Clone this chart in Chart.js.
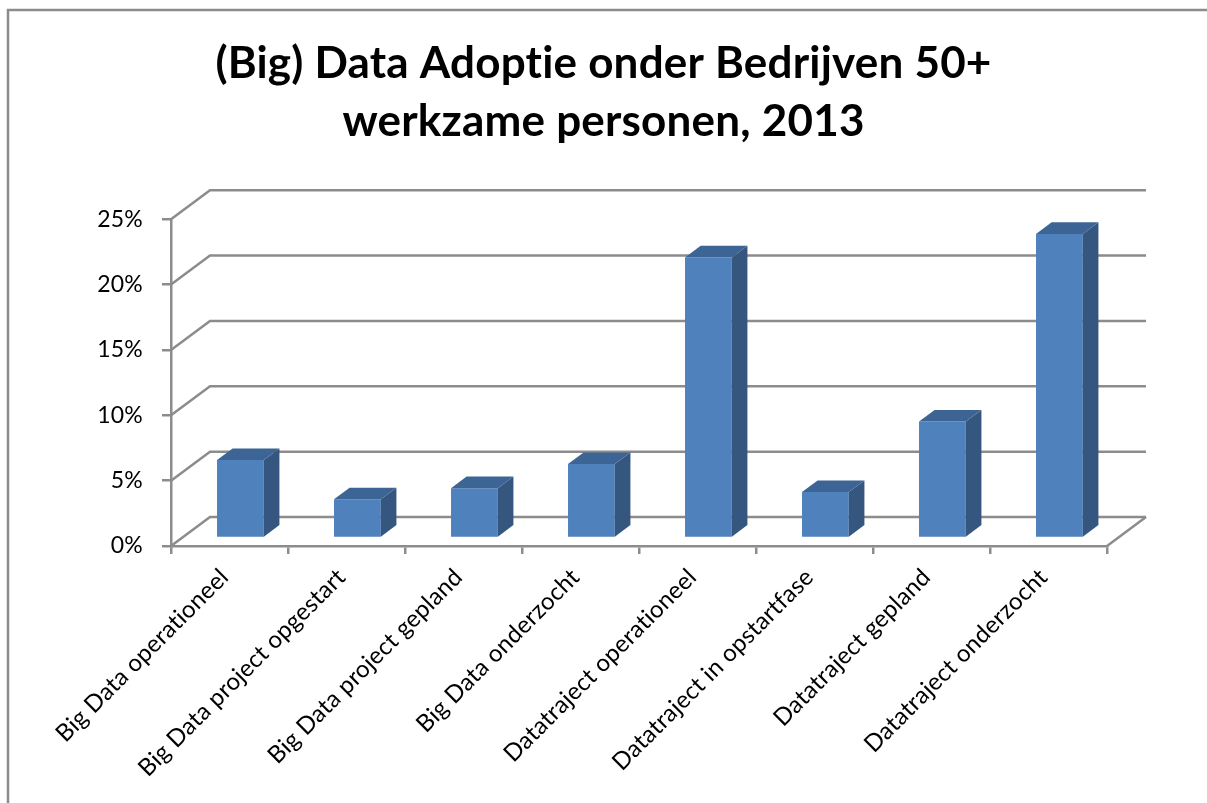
<!DOCTYPE html>
<html>
<head>
<meta charset="utf-8">
<script src="https://cdn.jsdelivr.net/npm/chart.js@4"></script>
<style>
    html, body { margin: 0; padding: 0; background: #fff; }
    canvas { display: block; }
</style>
</head>
<body>
<canvas id="chartCanvas" width="1207" height="803"></canvas>
<script>
const categories = [
    'Big Data operationeel',
    'Big Data project opgestart',
    'Big Data project gepland',
    'Big Data onderzocht',
    'Datatraject operationeel',
    'Datatraject in opstartfase',
    'Datatraject gepland',
    'Datatraject onderzocht',
];
const adoptionPct = [5.95, 2.95, 3.8, 5.65, 21.45, 3.5, 8.9, 23.25];
const yTickValues = [0, 5, 10, 15, 20, 25];
const titleLines = ['(Big) Data Adoptie onder Bedrijven 50+', 'werkzame personen, 2013'];

const gridColor = '#8c8c8c';
const depth = { dx: 39, dy: -29 };   // full floor depth (oblique)
const barFront = 0.28;                // where the bar front face sits in the depth
const barDepth = 0.4;                 // bar thickness, as part of the depth

// Draws the 3D walls, the frame, and the side/top faces of the bars
const wall3d = {
    id: 'wall3d',
    beforeDraw(chart) {
        const ctx = chart.ctx;
        // tiny spacing stops the "ti" ligature of the font
        ctx.letterSpacing = '0.2px';
        ctx.save();
        ctx.strokeStyle = gridColor;
        ctx.lineWidth = 2.5;
        ctx.strokeRect(8, 10, 1220, 820);
        ctx.restore();
    },
    beforeDatasetsDraw(chart) {
        const ctx = chart.ctx;
        const { left, right, bottom } = chart.chartArea;
        const y = chart.scales.y;
        ctx.save();
        ctx.strokeStyle = gridColor;
        ctx.lineWidth = 2.5;
        yTickValues.forEach((v) => {
            const py = y.getPixelForValue(v);
            ctx.beginPath();
            ctx.moveTo(left, py);
            ctx.lineTo(left + depth.dx, py + depth.dy);
            ctx.lineTo(right + depth.dx, py + depth.dy);
            ctx.stroke();
        });
        // right floor edge
        ctx.beginPath();
        ctx.moveTo(right, bottom);
        ctx.lineTo(right + depth.dx, bottom + depth.dy);
        ctx.stroke();
        ctx.restore();
    },
    beforeDatasetDraw(chart) {
        chart.ctx.save();
        chart.ctx.translate(depth.dx * barFront, depth.dy * barFront);
    },
    afterDatasetDraw(chart, args) {
        const ctx = chart.ctx;
        const bdx = depth.dx * barDepth;
        const bdy = depth.dy * barDepth;
        args.meta.data.forEach((bar) => {
            const { x, y, width, base } = bar.getProps(['x', 'y', 'width', 'base'], true);
            const l = x - width / 2;
            const r = x + width / 2;
            // side face
            ctx.fillStyle = '#35577f';
            ctx.beginPath();
            ctx.moveTo(r, y);
            ctx.lineTo(r + bdx, y + bdy);
            ctx.lineTo(r + bdx, base + bdy);
            ctx.lineTo(r, base);
            ctx.closePath();
            ctx.fill();
            // top face
            ctx.fillStyle = '#3c6494';
            ctx.beginPath();
            ctx.moveTo(l, y);
            ctx.lineTo(l + bdx, y + bdy);
            ctx.lineTo(r + bdx, y + bdy);
            ctx.lineTo(r, y);
            ctx.closePath();
            ctx.fill();
        });
        ctx.restore();
    },
};

new Chart(document.getElementById('chartCanvas'), {
    type: 'bar',
    data: {
        labels: categories,
        datasets: [{
            data: adoptionPct,
            backgroundColor: '#4f81bd',
            borderWidth: 0,
            barPercentage: 0.4,
            categoryPercentage: 1.0,
        }],
    },
    options: {
        responsive: false,
        animation: false,
        devicePixelRatio: 1,
        layout: { padding: 0 },
        plugins: {
            legend: { display: false },
            tooltip: { enabled: false },
            title: {
                display: true,
                text: titleLines,
                color: '#000',
                font: { family: 'Lato', size: 44, weight: 'bold', lineHeight: 1.32 },
                padding: { top: 35, bottom: 68 },
            },
        },
        scales: {
            x: {
                grid: {
                    drawOnChartArea: false,
                    drawTicks: true,
                    tickLength: 8,
                    color: gridColor,
                    lineWidth: 2.5,
                    offset: true,
                },
                border: { color: gridColor, width: 2.5 },
                ticks: {
                    autoSkip: false,
                    minRotation: 45,
                    maxRotation: 45,
                    color: '#000',
                    padding: 9,
                    labelOffset: -5,
                    font: { family: 'Lato', size: 24 },
                },
                afterFit: (scale) => { scale.height = 257; },
            },
            y: {
                min: 0,
                max: 25,
                grid: {
                    drawOnChartArea: false,
                    tickLength: 9,
                    color: gridColor,
                    lineWidth: 2.5,
                },
                border: { color: gridColor, width: 2.5 },
                ticks: {
                    stepSize: 5,
                    color: '#000',
                    padding: 19,
                    font: { family: 'Lato', size: 23 },
                    callback: (v) => v + '%',
                },
                afterFit: (scale) => { scale.width = 171; },
            },
            // empty right-hand space so the plot ends where the reference does
            spacer: {
                position: 'right',
                display: true,
                grid: { display: false },
                border: { display: false },
                ticks: { display: false },
                afterFit: (scale) => { scale.width = 100; },
            },
        },
    },
    plugins: [wall3d],
});
</script>
</body>
</html>
